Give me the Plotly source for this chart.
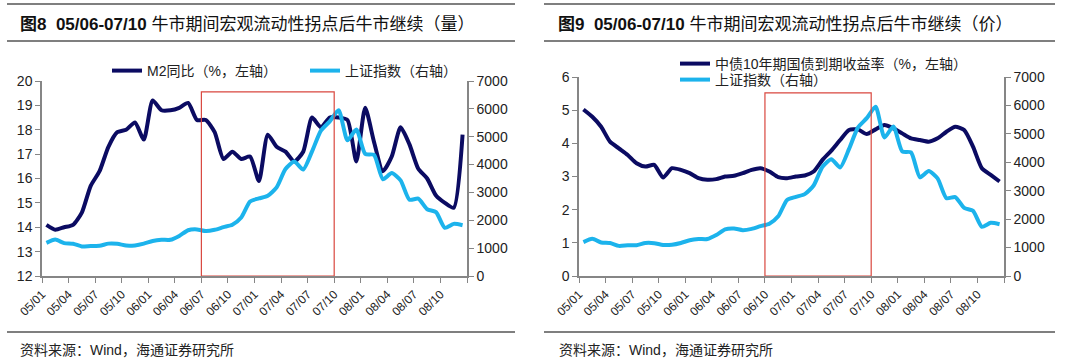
import plotly.graph_objects as go

# ---------------- data ----------------
months = [f"{y:02d}/{m:02d}" for y in range(5, 9) for m in range(1, 13)]
tick_labels = ["05/01", "05/04", "05/07", "05/10", "06/01", "06/04", "06/07", "06/10",
               "07/01", "07/04", "07/07", "07/10", "08/01", "08/04", "08/07", "08/10"]

m2_yoy = [14.1, 13.9, 14.0, 14.1, 14.6, 15.7, 16.3, 17.3, 17.9, 18.0, 18.3, 17.6,
          19.2, 18.8, 18.8, 18.9, 19.1, 18.4, 18.4, 17.9, 16.8, 17.1, 16.8, 16.9,
          15.9, 17.8, 17.3, 17.1, 16.7, 17.1, 18.5, 18.1, 18.5, 18.5, 18.4, 16.7,
          18.9, 17.5, 16.3, 16.9, 18.1, 17.4, 16.4, 16.0, 15.3, 15.0, 14.8, 17.8]

shci = [1191, 1306, 1181, 1159, 1060, 1080, 1083, 1162, 1155, 1092, 1099, 1161,
        1258, 1299, 1299, 1440, 1642, 1672, 1612, 1658, 1753, 1838, 2099, 2675,
        2786, 2881, 3183, 3841, 4109, 3820, 4471, 5218, 5552, 5954, 4871, 5262,
        4383, 4348, 3473, 3693, 3433, 2736, 2776, 2397, 2293, 1729, 1871, 1821]

cgb10y = [5.02, 4.80, 4.50, 4.05, 3.85, 3.65, 3.40, 3.30, 3.35, 2.97, 3.25, 3.20,
          3.10, 2.95, 2.90, 2.92, 3.00, 3.02, 3.10, 3.20, 3.25, 3.15, 2.98, 2.95,
          3.00, 3.03, 3.15, 3.50, 3.78, 4.10, 4.40, 4.42, 4.28, 4.42, 4.55, 4.45,
          4.30, 4.15, 4.10, 4.05, 4.15, 4.35, 4.50, 4.40, 3.90, 3.25, 3.05, 2.85]

name_m2 = "M2同比（%，左轴）"
name_sh = "上证指数（右轴）"
name_cgb = "中债10年期国债到期收益率（%，左轴）"

title_l = "<b>图8  05/06-07/10</b> 牛市期间宏观流动性拐点后牛市继续（量）"
title_r = "<b>图9  05/06-07/10</b> 牛市期间宏观流动性拐点后牛市继续（价）"
source = "资料来源：Wind，海通证券研究所"

# ---------------- styling ----------------
NAVY = "#0b0b62"
SKY = "#1cb3ec"
AXC = "#868686"
FONT = "Liberation Sans, Noto Sans CJK SC, sans-serif"
W, H = 1080, 363

xpos = [i + 0.5 for i in range(len(months))]
tickvals = [i * 3 for i in range(len(tick_labels))] + [48]
ticktext = tick_labels + [""]

def px_x(p):
    return p / W

def px_y(p):
    return 1 - p / H

fig = go.Figure()
line_kw = dict(shape="spline", smoothing=0.6, width=4)

fig.add_trace(go.Scatter(x=xpos, y=m2_yoy, name=name_m2, mode="lines",
                         line=dict(color=NAVY, **line_kw), xaxis="x", yaxis="y",
                         legend="legend", hovertext=months))
fig.add_trace(go.Scatter(x=xpos, y=shci, name=name_sh, mode="lines",
                         line=dict(color=SKY, **line_kw), xaxis="x", yaxis="y2",
                         legend="legend2", hovertext=months))
fig.add_trace(go.Scatter(x=xpos, y=cgb10y, name=name_cgb, mode="lines",
                         line=dict(color=NAVY, **line_kw), xaxis="x2", yaxis="y3",
                         legend="legend3", hovertext=months))
fig.add_trace(go.Scatter(x=xpos, y=shci, name=name_sh, mode="lines",
                         line=dict(color=SKY, **line_kw), xaxis="x2", yaxis="y4",
                         legend="legend4", hovertext=months))

xcommon = dict(range=[0, 48], tickvals=tickvals, ticktext=ticktext, tickangle=-45,
               showline=True, linecolor=AXC, linewidth=1.5, ticks="outside",
               tickcolor=AXC, ticklen=5, tickwidth=1.2, showgrid=False, zeroline=False,
               automargin=False,
               tickfont=dict(size=12, color="#222", family=FONT))
ycommon = dict(showline=True, linecolor=AXC, linewidth=1.5, ticks="outside",
               tickcolor=AXC, ticklen=5, tickwidth=1.2, showgrid=False, zeroline=False,
               automargin=False,
               tickfont=dict(size=14, color="#222", family=FONT))

dom_y_l = [px_y(276), px_y(81)]
dom_y_r = [px_y(276), px_y(77)]

def leg(xp, yp):
    return dict(orientation="v", x=px_x(xp), y=px_y(yp), xanchor="left", yanchor="top",
                font=dict(size=14, color="#222", family=FONT), bgcolor="rgba(0,0,0,0)",
                tracegroupgap=0, itemwidth=30)

fig.update_layout(
    width=W, height=H, margin=dict(l=0, r=0, t=0, b=0, pad=0, autoexpand=False),
    paper_bgcolor="white", plot_bgcolor="white",
    font=dict(family=FONT, color="#222"),
    xaxis=dict(domain=[px_x(42), px_x(467)], anchor="y", **xcommon),
    yaxis=dict(domain=dom_y_l, range=[12, 20], dtick=1, anchor="x", **ycommon),
    yaxis2=dict(range=[0, 7000], dtick=1000, overlaying="y", side="right", anchor="x", **ycommon),
    xaxis2=dict(domain=[px_x(579), px_x(1004)], anchor="y3", **xcommon),
    yaxis3=dict(domain=dom_y_r, range=[0, 6], dtick=1, anchor="x2", **ycommon),
    yaxis4=dict(range=[0, 7000], dtick=1000, overlaying="y3", side="right", anchor="x2", **ycommon),
    legend=leg(107, 55),
    legend2=leg(305, 55),
    legend3=leg(675, 48),
    legend4=leg(675, 64),
    showlegend=True,
)

shapes = []
# header / footer rules
for x0, x1 in [(7, 515), (544, 1055)]:
    for yy in (4, 41, 332):
        shapes.append(dict(type="line", xref="paper", yref="paper",
                           x0=px_x(x0), x1=px_x(x1), y0=px_y(yy), y1=px_y(yy),
                           line=dict(color="#555", width=1.5)))
# red highlight boxes
shapes.append(dict(type="rect", xref="x", yref="y", x0=18, x1=33, y0=12, y1=19.55,
                   line=dict(color="#d9473f", width=1.2)))
shapes.append(dict(type="rect", xref="x2", yref="y3", x0=21, x1=33, y0=0, y1=5.52,
                   line=dict(color="#d9473f", width=1.2)))
fig.update_layout(shapes=shapes)

anns = []
for x, t in [(18, title_l), (556, title_r)]:
    anns.append(dict(xref="paper", yref="paper", x=px_x(x), y=px_y(24), text=t,
                     showarrow=False, xanchor="left", yanchor="middle",
                     font=dict(size=17, color="#111", family=FONT)))
for x in (18, 557):
    anns.append(dict(xref="paper", yref="paper", x=px_x(x), y=px_y(350), text=source,
                     showarrow=False, xanchor="left", yanchor="middle",
                     font=dict(size=14, color="#222", family=FONT)))
fig.update_layout(annotations=anns)

fig.write_html("out.html", config={"displayModeBar": False},
               post_script="document.body.style.margin='0';")
